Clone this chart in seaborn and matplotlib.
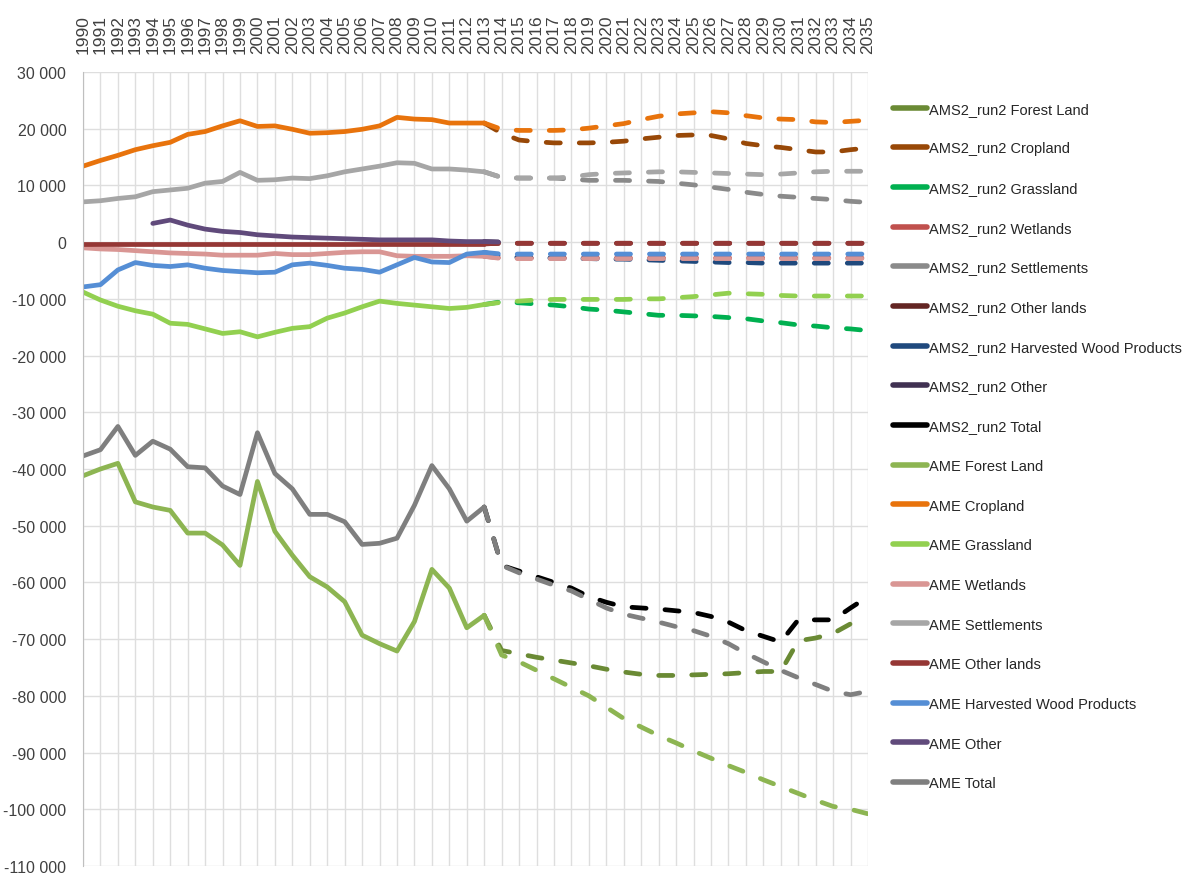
import numpy as np
import matplotlib
matplotlib.use("Agg")
import matplotlib.pyplot as plt
from matplotlib.lines import Line2D
from matplotlib.ticker import FuncFormatter
import seaborn as sns

nan = np.nan

# ---- data --------------------------------------------------------------
hist_years = list(range(1990, 2014))
proj_years = list(range(2013, 2036))  # projection starts at last historic year

categories = ["Forest Land", "Cropland", "Grassland", "Wetlands", "Settlements",
              "Other lands", "Harvested Wood Products", "Other", "Total"]

hist_forest = [-41200, -40000, -39000, -45800, -46700, -47300, -51300, -51300, -53400, -57000,
               -42200, -51000, -55200, -59000, -60800, -63400, -69300, -70800, -72100, -66900,
               -57700, -61000, -68000, -65800]
hist_crop = [13400, 14400, 15300, 16300, 17000, 17600, 19000, 19500, 20500, 21400,
             20400, 20500, 19900, 19200, 19300, 19500, 19900, 20500, 22000, 21700,
             21600, 21000, 21000, 21000]
hist_grass = [-8800, -10200, -11300, -12100, -12700, -14300, -14500, -15300, -16100, -15800,
              -16700, -15900, -15200, -14900, -13400, -12500, -11400, -10400, -10800, -11100,
              -11400, -11700, -11500, -11000]
hist_wet = [-1000, -1200, -1300, -1500, -1700, -1900, -2000, -2100, -2300, -2300,
            -2300, -2000, -2200, -2200, -2000, -1800, -1700, -1700, -2400, -2500,
            -2500, -2500, -2400, -2500]
hist_settl = [7100, 7300, 7700, 8000, 8900, 9200, 9500, 10400, 10700, 12300,
              10900, 11000, 11300, 11200, 11700, 12400, 12900, 13400, 14000, 13900,
              12900, 12900, 12700, 12400]
hist_olands = [-300, -300, -300, -300, -300, -300, -300, -300, -300, -300,
               -300, -300, -300, -300, -300, -300, -300, -300, -300, -300,
               -300, -300, -300, -300]
hist_hwp = [-7900, -7500, -4900, -3600, -4100, -4300, -4000, -4600, -5000, -5200,
            -5400, -5300, -4000, -3700, -4100, -4600, -4800, -5300, -4000, -2700,
            -3500, -3600, -2100, -1800]
hist_other = [nan, nan, nan, nan, 3300, 3900, 3000, 2300, 1900, 1700,
              1300, 1100, 900, 800, 700, 600, 500, 400, 400, 400,
              400, 200, 100, 100]
hist_total = [-37700, -36600, -32500, -37600, -35100, -36500, -39600, -39800, -43000, -44500,
              -33600, -40800, -43500, -48000, -48000, -49300, -53300, -53100, -52200, -46400,
              -39400, -43500, -49200, -46700]

# AME projections 2014-2035
ame_forest = [-72800, -74000, -75500, -77000, -78500, -80000, -82000, -84000, -85500, -87000, -88300,
              -89700, -91000, -92300, -93500, -94800, -96000, -97200, -98400, -99500, -100000, -100800]
ame_crop = [19900, 19700, 19700, 19700, 19800, 20100, 20500, 20900, 21600, 22200, 22600,
            22800, 23000, 22800, 22300, 21900, 21700, 21600, 21200, 21100, 21300, 21500]
ame_grass = [-10600, -10400, -10200, -10100, -10100, -10100, -10100, -10100, -10000, -10000, -9800,
             -9600, -9300, -9000, -9100, -9200, -9400, -9500, -9500, -9500, -9500, -9500]
ame_wet = [-2900, -2900, -2900, -2900, -2900, -2900, -2900, -2900, -2900, -2900, -2900,
           -2900, -2900, -2900, -2900, -2900, -2900, -2900, -2900, -2900, -2900, -2900]
ame_settl = [11400, 11300, 11300, 11300, 11500, 11900, 12100, 12200, 12300, 12400, 12400,
             12300, 12200, 12100, 12000, 11900, 12000, 12200, 12400, 12500, 12500, 12500]
ame_olands = [-200, -200, -200, -200, -200, -200, -200, -200, -200, -200, -200,
              -200, -200, -200, -200, -200, -200, -200, -200, -200, -200, -200]
ame_hwp = [-2100, -2100, -2100, -2100, -2100, -2100, -2100, -2100, -2100, -2100, -2100,
           -2100, -2100, -2100, -2100, -2100, -2100, -2100, -2100, -2100, -2100, -2100]
ame_other = [0, nan, nan, nan, nan, nan, nan, nan, nan, nan, nan,
             nan, nan, nan, nan, nan, nan, nan, nan, nan, nan, nan]
ame_total = [-57000, -58300, -59400, -60500, -61500, -63000, -64500, -65600, -66300, -67000, -67800,
             -68500, -69500, -70800, -72500, -74000, -75500, -76800, -78000, -79200, -79800, -79200]

# AMS2_run2 projections 2014-2035
ams2_forest = [-72000, -72600, -73200, -73700, -74200, -74700, -75300, -75800, -76200, -76400, -76400,
               -76300, -76200, -76100, -75900, -75700, -75700, -70300, -69800, -69000, -67300, -66600]
ams2_crop = [19200, 18000, 17700, 17500, 17500, 17500, 17600, 17800, 18200, 18500, 18800,
             18900, 18800, 18200, 17400, 17000, 16700, 16300, 15900, 15900, 16300, 16600]
ams2_grass = [-10500, -10700, -10900, -11100, -11400, -11800, -12000, -12300, -12600, -12900, -12900,
              -13000, -13100, -13300, -13500, -13900, -14200, -14600, -14800, -15100, -15300, -15600]
ams2_wet = [-2800, -2800, -2800, -2800, -2800, -2800, -2800, -2800, -2800, -2800, -2800,
            -2800, -2800, -2800, -2800, -2800, -2800, -2800, -2800, -2800, -2800, -2800]
ams2_settl = [11400, 11300, 11300, 11300, 11100, 10900, 10900, 10900, 10800, 10700, 10400,
              10100, 9700, 9300, 8800, 8400, 8100, 7900, 7700, 7500, 7200, 7000]
ams2_olands = [-200, -200, -200, -200, -200, -200, -200, -200, -200, -200, -200,
               -200, -200, -200, -200, -200, -200, -200, -200, -200, -200, -200]
ams2_hwp = [-2500, -2700, -2800, -2800, -2900, -2900, -3000, -3000, -3100, -3200, -3300,
            -3400, -3500, -3600, -3600, -3700, -3700, -3700, -3700, -3700, -3700, -3700]
ams2_other = [0, nan, nan, nan, nan, nan, nan, nan, nan, nan, nan,
              nan, nan, nan, nan, nan, nan, nan, nan, nan, nan, nan]
ams2_total = [-57000, -58000, -59000, -60000, -61000, -62500, -63500, -64300, -64500, -64700, -65000,
              -65300, -66000, -67000, -68500, -69500, -70500, -66600, -66600, -66600, -64500, -62500]

hist = [hist_forest, hist_crop, hist_grass, hist_wet, hist_settl, hist_olands, hist_hwp, hist_other, hist_total]
ame_proj = [ame_forest, ame_crop, ame_grass, ame_wet, ame_settl, ame_olands, ame_hwp, ame_other, ame_total]
ams2_proj = [ams2_forest, ams2_crop, ams2_grass, ams2_wet, ams2_settl, ams2_olands, ams2_hwp, ams2_other, ams2_total]

ams2_colors = ["#6a8a34", "#984807", "#00b050", "#c0504d", "#8a8a8a",
               "#632523", "#1f497d", "#403152", "#000000"]
ame_colors = ["#8db552", "#e8730c", "#92d050", "#d99694", "#a6a6a6",
              "#953735", "#558ed5", "#604a7b", "#7f7f7f"]

# ---- plot ----------------------------------------------------------------
sns.set_style("white")
plt.rcParams["font.family"] = ["Liberation Sans", "DejaVu Sans"]

fig = plt.figure(figsize=(11.83, 8.78), dpi=100)
ax = fig.add_axes([83 / 1183, 1 - 867 / 878, (868 - 83) / 1183, (867 - 73) / 878])

lw = 3.4
dash = (0, (3.0, 4.0))

# AMS2_run2 projections underneath
for vals, hv, col in zip(ams2_proj, hist, ams2_colors):
    y = [hv[-1]] + vals
    sns.lineplot(x=proj_years, y=y, ax=ax, color=col, linewidth=lw, linestyle=dash,
                 dash_capstyle="round", legend=False)

# AME: solid history, dashed projection
for vals, hv, col in zip(ame_proj, hist, ame_colors):
    sns.lineplot(x=hist_years, y=hv, ax=ax, color=col, linewidth=lw,
                 solid_capstyle="round", solid_joinstyle="round", legend=False)
    y = [hv[-1]] + vals
    sns.lineplot(x=proj_years, y=y, ax=ax, color=col, linewidth=lw, linestyle=dash,
                 dash_capstyle="round", legend=False)

ax.set_xlim(1990, 2035)
ax.set_ylim(-110000, 30000)
ax.set_xticks(range(1990, 2036))
ax.set_yticks(range(-110000, 30001, 10000))
ax.yaxis.set_major_formatter(FuncFormatter(lambda v, p: f"{int(v):,}".replace(",", " ")))
ax.xaxis.tick_top()
ax.tick_params(axis="x", rotation=90, length=0, pad=14, labelsize=12.5, labelcolor="#404040")
ax.tick_params(axis="y", length=5, width=1, color="#bfbfbf", labelsize=11.5, labelcolor="#404040", pad=7)
ax.grid(True, color="#dedede", linewidth=1)
ax.set_axisbelow(True)
ax.set_xlabel("")
ax.set_ylabel("")
for side in ["top", "right", "bottom"]:
    ax.spines[side].set_visible(False)
ax.spines["left"].set_color("#bfbfbf")

handles = [Line2D([0], [0], color=c, lw=4, solid_capstyle="round") for c in ams2_colors + ame_colors]
labels = ["AMS2_run2 " + c for c in categories] + ["AME " + c for c in categories]
fig.legend(handles, labels, loc="upper left", bbox_to_anchor=(887 / 1183, 1 - 97 / 878),
           frameon=False, fontsize=10.5, handlelength=2.35, handletextpad=0.15,
           labelspacing=1.76, borderaxespad=0, labelcolor="#262626")

fig.savefig("out.png", dpi=100)
